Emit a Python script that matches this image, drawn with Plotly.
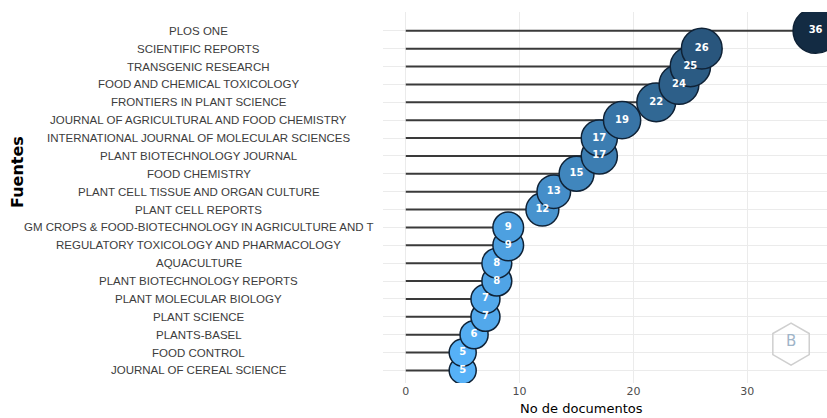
import math
import plotly.graph_objects as go

fuentes = [
    "PLOS ONE", "SCIENTIFIC REPORTS", "TRANSGENIC RESEARCH", "FOOD AND CHEMICAL TOXICOLOGY",
    "FRONTIERS IN PLANT SCIENCE", "JOURNAL OF AGRICULTURAL AND FOOD CHEMISTRY",
    "INTERNATIONAL JOURNAL OF MOLECULAR SCIENCES", "PLANT BIOTECHNOLOGY JOURNAL",
    "FOOD CHEMISTRY", "PLANT CELL TISSUE AND ORGAN CULTURE", "PLANT CELL REPORTS",
    "GM CROPS & FOOD-BIOTECHNOLOGY IN AGRICULTURE AND T",
    "REGULATORY TOXICOLOGY AND PHARMACOLOGY", "AQUACULTURE", "PLANT BIOTECHNOLOGY REPORTS",
    "PLANT MOLECULAR BIOLOGY", "PLANT SCIENCE", "PLANTS-BASEL", "FOOD CONTROL",
    "JOURNAL OF CEREAL SCIENCE",
]
documentos = [36, 26, 25, 24, 22, 19, 17, 17, 15, 13, 12, 9, 9, 8, 8, 7, 7, 6, 5, 5]
x_ticks = [0, 10, 20, 30]

# reverse so the first source is on top
cats = fuentes[::-1]
vals = documentos[::-1]

fig = go.Figure()

# lollipop stems
lx, ly = [], []
for c, v in zip(cats, vals):
    lx += [0, v, None]
    ly += [c, c, None]
fig.add_trace(go.Scatter(x=lx, y=ly, mode="lines",
                         line=dict(color="#3a3a3a", width=2),
                         hoverinfo="skip", showlegend=False))

# area-like size scale
sizes = [16.3 + 4.8 * math.sqrt(v) for v in vals]
fig.add_trace(go.Scatter(
    x=vals, y=cats, mode="markers+text",
    text=[str(v) for v in vals],
    textfont=dict(color="white", size=10, family="DejaVu Sans"),
    texttemplate="<b>%{text}</b>",
    marker=dict(size=sizes, color=vals,
                colorscale=[[0, "#56B1F7"], [1, "#132B43"]],
                cmin=min(vals), cmax=max(vals),
                line=dict(color="#0f2236", width=1.5), opacity=1),
    showlegend=False, cliponaxis=True))

# centered category labels
for c in cats:
    fig.add_annotation(x=-0.415, xref="paper", y=c, yref="y", text=c,
                       showarrow=False, xanchor="center",
                       font=dict(family="Liberation Sans", size=11.5, color="#3c3c3c"))

# logo (pointy-top hexagon)
hx, hy, ry = 0.919, 0.105, 0.0566
rx = ry * 371 / 444
pts = []
for k in range(6):
    a = math.pi / 2 + k * math.pi / 3
    pts.append((hx + rx * math.cos(a), hy + ry * math.sin(a)))
path = "M " + " L ".join(f"{px:.4f},{py:.4f}" for px, py in pts) + " Z"
fig.add_shape(type="path", path=path, xref="paper", yref="paper",
              line=dict(color="#cfcfcf", width=1.5))
fig.add_annotation(x=hx, y=hy + 0.008, xref="paper", yref="paper", text="B",
                   showarrow=False, xanchor="center", yanchor="middle",
                   font=dict(size=15, color="#9fb4c8", family="DejaVu Sans"))

fig.update_layout(
    width=827, height=418,
    margin=dict(l=383, r=0, t=12, b=35),
    paper_bgcolor="white", plot_bgcolor="white",
    xaxis=dict(range=[-2, 37], tickvals=x_ticks, showgrid=True,
               gridcolor="#ebebeb", gridwidth=1, zeroline=False,
               tickfont=dict(size=11, color="#4d4d4d", family="DejaVu Sans"),
               ticks="", showline=False),
    yaxis=dict(range=[-0.7, 20.05], showticklabels=False, showgrid=True,
               gridcolor="#ebebeb", gridwidth=1, zeroline=False, ticks=""),
)
fig.add_annotation(x=0.446, xref="paper", y=-0.069, yref="paper", text="No de documentos",
                   showarrow=False, xanchor="center", yanchor="middle",
                   font=dict(size=13, color="black", family="DejaVu Sans"))
fig.add_annotation(x=-0.822, xref="paper", y=0.569, yref="paper", text="<b>Fuentes</b>",
                   textangle=-90, showarrow=False, xanchor="center", yanchor="middle",
                   font=dict(size=16, color="black", family="DejaVu Sans"))

fig.write_html("out.html", config={"displayModeBar": False},
               post_script="document.body.style.margin='0';")
